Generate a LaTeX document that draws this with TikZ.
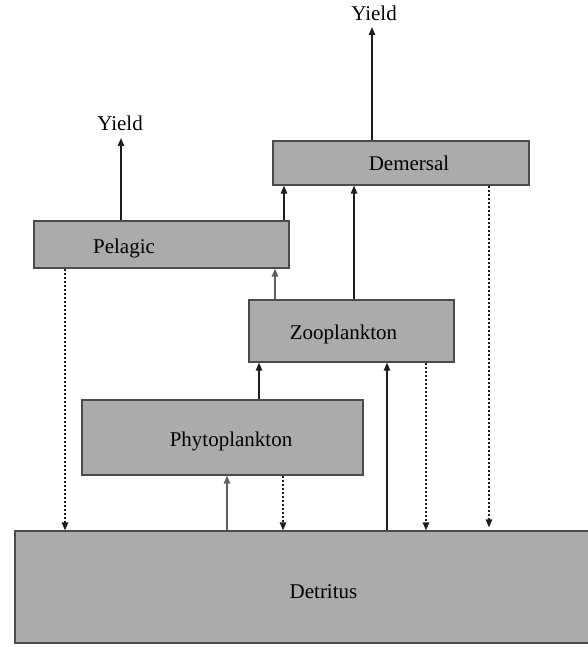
\documentclass[tikz,border=0pt]{standalone}
\usepackage{fontspec}
\setmainfont{Liberation Serif}
\usetikzlibrary{arrows.meta}
\definecolor{boxfill}{RGB}{171,171,171}
\definecolor{boxline}{RGB}{75,75,75}
\definecolor{arrdark}{RGB}{30,30,30}
\definecolor{arrlight}{RGB}{95,95,95}
\begin{document}
\begin{tikzpicture}[x=1pt,y=-1pt,
  box/.style={draw=boxline, fill=boxfill, line width=1.3pt, inner sep=0pt},
  lbl/.style={font=\fontsize{21}{25}\selectfont, inner sep=0pt},
  boxtext/.style={lbl, anchor=base},
  arr/.style={line width=1.4pt, draw=arrdark, -{Triangle[length=8pt,width=6.5pt]}},
  grayarr/.style={arr, draw=arrlight},
  dotarr/.style={arr, dash pattern=on 2.5pt off 1.5pt},
]
\useasboundingbox (0,0) rectangle (588,647);
% boxes
\node[box, minimum width=256, minimum height=44] (dem) at (401,163) {};
\node[box, minimum width=255, minimum height=47] (pel) at (161.5,244.5) {};
\node[box, minimum width=205, minimum height=62] (zoo) at (351.5,331) {};
\node[box, minimum width=281, minimum height=75] (phy) at (222.5,437.5) {};
\node[box, minimum width=605, minimum height=112] (det) at (317.5,587) {};
% box texts
\node[boxtext] (demT) at (409,171) {Demersal};
\node[boxtext] (pelT) at (124,253) {Pelagic};
\node[boxtext] (zooT) at (343.5,339) {Zooplankton};
\node[boxtext] (phyT) at (231,446) {Phytoplankton};
\node[boxtext] (detT) at (323.5,598) {Detritus};
% yield labels
\node[lbl, anchor=south] (yr) at (374,20.5) {Yield};
\node[lbl, anchor=south] (yl) at (120,131) {Yield};
% yields
\draw[arr] (372,0 |- dem.north) -- ([yshift=-6.5pt]372,0 |- yr.south);
\draw[arr] (121,0 |- pel.north) -- ([yshift=-7pt]121,0 |- yl.south);
% feeding flows
\draw[arr] (284,0 |- pel.north) -- (284,0 |- dem.south);
\draw[arr] (354,0 |- zoo.north) -- (354,0 |- dem.south);
\draw[grayarr] (275,0 |- zoo.north) -- (275,0 |- pel.south);
\draw[arr] (259,0 |- phy.north) -- (259,0 |- zoo.south);
\draw[arr] (387,0 |- det.north) -- (387,0 |- zoo.south);
\draw[grayarr] (227,0 |- det.north) -- (227,0 |- phy.south);
% detrital flows
\draw[dotarr] (65,0 |- pel.south) -- (65,0 |- det.north);
\draw[dotarr] (283,0 |- phy.south) -- (283,0 |- det.north);
\draw[dotarr] (426,0 |- zoo.south) -- (426,0 |- det.north);
\draw[dotarr] (489,0 |- dem.south) -- ([yshift=3pt]489,0 |- det.north);
\end{tikzpicture}
\end{document}
